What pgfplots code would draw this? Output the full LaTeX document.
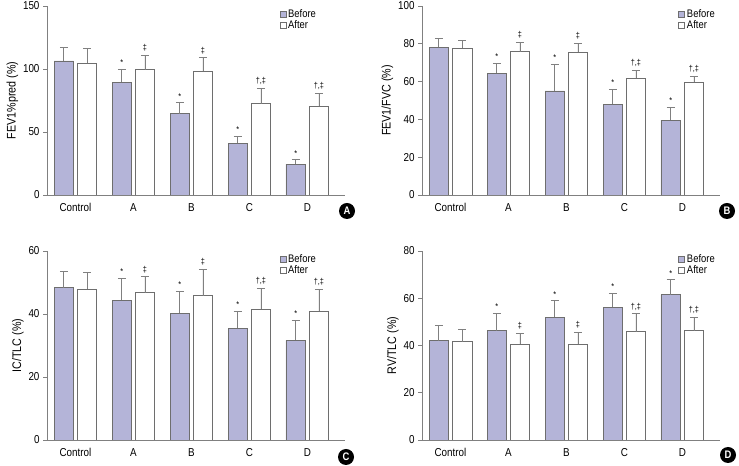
\documentclass[border=0pt]{standalone}
\usepackage{pgfplots}
\pgfplotsset{compat=1.18}
\usepackage{fontspec}
\setmainfont{Liberation Sans}[FakeStretch=0.86]
\definecolor{lav}{RGB}{180,180,216}
\definecolor{edge}{RGB}{110,110,110}
\definecolor{axgray}{RGB}{128,128,128}
\tikzset{ann/.style={font=\fontsize{8.5}{9}\selectfont, anchor=south, inner sep=1.5bp, yshift=2bp}}
\pgfplotsset{
  panel/.style={
    scale only axis, width=298bp, height=189bp,
    anchor=south west,
    axis x line*=bottom, axis y line*=left,
    axis line style={axgray, line width=0.7pt},
    xmin=-0.49, xmax=4.65, ymin=0,
    xtick={0,1,2,3,4}, xticklabels={Control,A,B,C,D},
    major x tick style={draw=none},
    y tick style={axgray, line width=0.6pt},
    tick align=outside, major tick length=4bp,
    /pgf/number format/assume math mode=true,
    tick label style={font=\fontsize{11.5}{12}\selectfont},
    label style={font=\fontsize{12.5}{13}\selectfont},
    xticklabel style={yshift=-1bp},
    ylabel style={yshift=-2bp},
    ybar, bar width=0.336,
    error bars/y dir=plus, error bars/y explicit,
    error bars/error bar style={axgray, line width=0.8pt},
    error bars/error mark options={axgray, line width=0.8pt, mark size=4bp, rotate=90},
    legend cell align=left,
    legend image code/.code={\draw[##1, draw=edge, line width=0.5pt] (0bp,-3bp) rectangle (6bp,3bp);},
    legend style={draw=none, fill=none, font=\fontsize{11}{12}\selectfont, row sep=-2bp, inner sep=0pt, anchor=north west},
  },
  bef/.style={fill=lav, draw=edge, line width=0.5pt, bar shift=-0.2},
  aft/.style={fill=white, draw=edge, line width=0.5pt, bar shift=0.2},
}
\begin{document}
\begin{tikzpicture}[x=1bp,y=1bp]
\path[use as bounding box] (0,0) rectangle (739,466);
% Panel A
\begin{axis}[panel, at={(47bp,271bp)}, ymax=150, ytick={0,50,100,150},
  ylabel={FEV1\%pred (\%)},
  legend style={at={(rel axis cs:0.78,0.995)}}]
\addplot[bef] table[x=x, y=y, y error=e] {
x y e
0 106.4 10.9
1 89.4 10.6
2 64.6 8.5
3 41.2 5.1
4 24.5 3.4
};
\addplot[aft] table[x=x, y=y, y error=e] {
x y e
0 104.5 11.7
1 99.5 11.4
2 98.4 10.6
3 72.6 12.0
4 70.7 10.2
};
\legend{Before,After}
\node[ann] at (axis cs:0.8,100) {*};
\node[ann] at (axis cs:1.2,110.9) {‡};
\node[ann] at (axis cs:1.8,73.1) {*};
\node[ann] at (axis cs:2.2,109) {‡};
\node[ann] at (axis cs:2.8,46.3) {*};
\node[ann] at (axis cs:3.2,84.6) {†,‡};
\node[ann] at (axis cs:3.8,27.9) {*};
\node[ann] at (axis cs:4.2,80.9) {†,‡};
\end{axis}
% Panel B
\begin{axis}[panel, at={(422bp,271bp)}, ymax=100, ytick={0,20,40,60,80,100},
  ylabel={FEV1/FVC (\%)},
  legend style={at={(rel axis cs:0.86,0.995)}}]
\addplot[bef] table[x=x, y=y, y error=e] {
x y e
0 78.2 4.7
1 64.4 5.3
2 55.1 13.9
3 48.1 7.7
4 39.6 6.9
};
\addplot[aft] table[x=x, y=y, y error=e] {
x y e
0 77.6 4.1
1 75.9 4.9
2 75.5 4.8
3 61.8 4.2
4 59.7 3.2
};
\legend{Before,After}
\node[ann] at (axis cs:0.8,69.7) {*};
\node[ann] at (axis cs:1.2,80.8) {‡};
\node[ann] at (axis cs:1.8,69.0) {*};
\node[ann] at (axis cs:2.2,80.3) {‡};
\node[ann] at (axis cs:2.8,55.8) {*};
\node[ann] at (axis cs:3.2,66.0) {†,‡};
\node[ann] at (axis cs:3.8,46.5) {*};
\node[ann] at (axis cs:4.2,62.9) {†,‡};
\end{axis}
% Panel C
\begin{axis}[panel, at={(47bp,26bp)}, ymax=60, ytick={0,20,40,60},
  ylabel={IC/TLC (\%)},
  legend style={at={(rel axis cs:0.78,0.995)}}]
\addplot[bef] table[x=x, y=y, y error=e] {
x y e
0 48.4 5.0
1 44.4 6.9
2 40.2 6.9
3 35.4 5.4
4 31.6 6.3
};
\addplot[aft] table[x=x, y=y, y error=e] {
x y e
0 47.9 5.2
1 46.8 5.1
2 45.8 8.5
3 41.5 6.6
4 40.8 7.0
};
\legend{Before,After}
\node[ann] at (axis cs:0.8,51.3) {*};
\node[ann] at (axis cs:1.2,51.9) {‡};
\node[ann] at (axis cs:1.8,47.1) {*};
\node[ann] at (axis cs:2.2,54.3) {‡};
\node[ann] at (axis cs:2.8,40.8) {*};
\node[ann] at (axis cs:3.2,48.1) {†,‡};
\node[ann] at (axis cs:3.8,37.9) {*};
\node[ann] at (axis cs:4.2,47.8) {†,‡};
\end{axis}
% Panel D
\begin{axis}[panel, at={(422bp,26bp)}, ymax=80, ytick={0,20,40,60,80},
  ylabel={RV/TLC (\%)},
  legend style={at={(rel axis cs:0.86,0.995)}}]
\addplot[bef] table[x=x, y=y, y error=e] {
x y e
0 42.1 6.5
1 46.3 7.4
2 52.0 6.9
3 56.1 6.1
4 61.5 6.3
};
\addplot[aft] table[x=x, y=y, y error=e] {
x y e
0 41.6 5.3
1 40.5 4.7
2 40.5 5.1
3 45.9 7.5
4 46.3 5.5
};
\legend{Before,After}
\node[ann] at (axis cs:0.8,53.7) {*};
\node[ann] at (axis cs:1.2,45.2) {‡};
\node[ann] at (axis cs:1.8,58.9) {*};
\node[ann] at (axis cs:2.2,45.6) {‡};
\node[ann] at (axis cs:2.8,62.2) {*};
\node[ann] at (axis cs:3.2,53.4) {†,‡};
\node[ann] at (axis cs:3.8,67.8) {*};
\node[ann] at (axis cs:4.2,51.8) {†,‡};
\end{axis}
% panel letters
\foreach \p/\l in {{(347,255)}/A,{(727,255)}/B,{(346,9)}/C,{(728,11)}/D}{
  \node[circle, fill=black, text=white, inner sep=0pt, minimum size=16bp, font=\bfseries\fontsize{11}{12}\selectfont] at \p {\l};
}
\end{tikzpicture}
\end{document}
